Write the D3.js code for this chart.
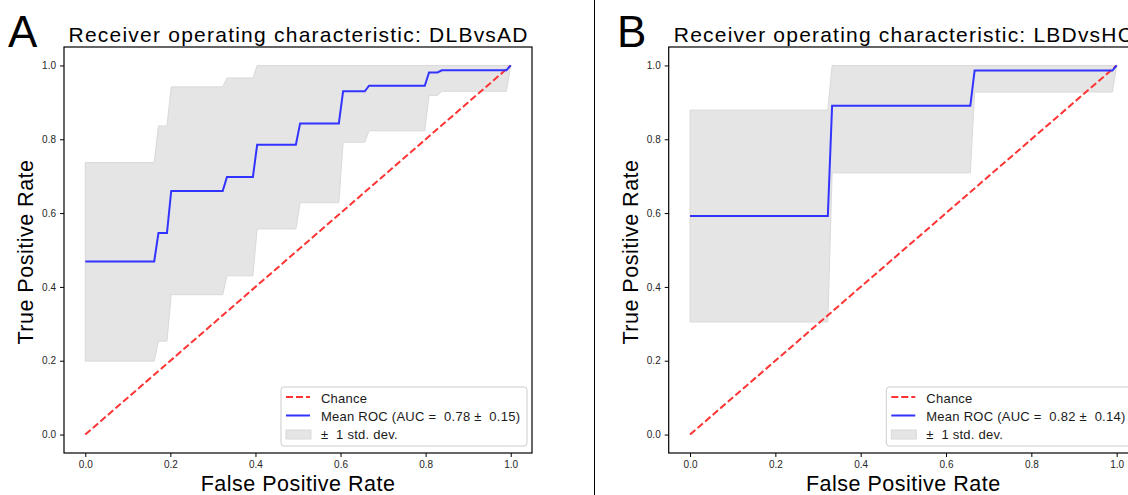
<!DOCTYPE html>
<html lang="en">
<head>
<meta charset="UTF-8">
<title>ROC curves</title>
<script src="https://d3js.org/d3.v7.min.js"></script>
<style>
  body { margin: 0; background: #fff; }
  text { font-family: "Liberation Sans", Arial, sans-serif; }
  .tick text { fill: #262626; font-size: 10px; }
  .tick line { stroke: #000; }
</style>
</head>
<body>
<svg width="1128" height="495"></svg>
<script>
// ---- data ----
const ticks = [0, 0.2, 0.4, 0.6, 0.8, 1.0];
const chance = [0, 1];

// panel A: DLB vs AD
const fprA   = [0, 0.162, 0.172, 0.192, 0.202, 0.323, 0.333, 0.394, 0.404, 0.495, 0.505, 0.596, 0.606, 0.657, 0.667, 0.798, 0.808, 0.828, 0.838, 0.990, 1.0];
const meanA  = [0.469, 0.469, 0.546, 0.546, 0.660, 0.660, 0.698, 0.698, 0.785, 0.785, 0.843, 0.843, 0.930, 0.930, 0.945, 0.945, 0.981, 0.981, 0.987, 0.987, 1.0];
const upperA = [0.737, 0.737, 0.836, 0.836, 0.942, 0.942, 0.966, 0.966, 1, 1, 1, 1, 1, 1, 1, 1, 1, 1, 1, 1, 1];
const lowerA = [0.199, 0.199, 0.253, 0.253, 0.379, 0.379, 0.430, 0.430, 0.557, 0.557, 0.628, 0.628, 0.792, 0.792, 0.823, 0.823, 0.919, 0.919, 0.930, 0.930, 1.0];

// panel B: LBD vs HC
const fprB   = [0, 0.323, 0.333, 0.657, 0.667, 0.990, 1.0];
const meanB  = [0.592, 0.592, 0.891, 0.891, 0.986, 0.986, 1.0];
const upperB = [0.879, 0.879, 1, 1, 1, 1, 1];
const lowerB = [0.305, 0.305, 0.709, 0.709, 0.928, 0.928, 1.0];

const panels = [
  { letter: "A", title: "Receiver operating characteristic: DLBvsAD", auc: "0.78", sd: "0.15",
    fpr: fprA, mean: meanA, upper: upperA, lower: lowerA, left: 64, right: 532, letterX: 8 },
  { letter: "B", title: "Receiver operating characteristic: LBDvsHC", auc: "0.82", sd: "0.14",
    fpr: fprB, mean: meanB, upper: upperB, lower: lowerB, left: 668.7, right: 1138, letterX: 617 }
];

const svg = d3.select("svg");
const plotTop = 47, plotBottom = 453;

// separator between the panels
svg.append("line")
  .attr("x1", 594.5).attr("x2", 594.5).attr("y1", 0).attr("y2", 495)
  .attr("stroke", "#000").attr("stroke-width", 1);

panels.forEach(p => {
  const x = d3.scaleLinear().domain([-0.05, 1.05]).range([p.left, p.right]);
  const y = d3.scaleLinear().domain([-0.05, 1.05]).range([plotBottom, plotTop]);
  const g = svg.append("g");

  // std band
  const area = d3.area()
    .x((d, i) => x(p.fpr[i]))
    .y0((d, i) => y(p.lower[i]))
    .y1((d, i) => y(p.upper[i]));
  g.append("path")
    .datum(p.fpr)
    .attr("d", area)
    .attr("fill", "#e5e5e5")
    .attr("stroke", "#d9d9d9")
    .attr("stroke-width", 1);

  // chance line
  g.append("path")
    .datum(chance)
    .attr("d", d3.line().x(d => x(d)).y(d => y(d)))
    .attr("fill", "none")
    .attr("stroke", "#ff3333")
    .attr("stroke-width", 2)
    .attr("stroke-dasharray", "7,3");

  // mean ROC
  g.append("path")
    .datum(p.fpr)
    .attr("d", d3.line().x((d, i) => x(p.fpr[i])).y((d, i) => y(p.mean[i])))
    .attr("fill", "none")
    .attr("stroke", "#3333ff")
    .attr("stroke-width", 2);

  // axes
  const ax = g.append("g")
    .attr("transform", `translate(0,${plotBottom})`)
    .call(d3.axisBottom(x).tickValues(ticks).tickFormat(d3.format(".1f")).tickSize(4).tickPadding(4));
  const ay = g.append("g")
    .attr("transform", `translate(${p.left},0)`)
    .call(d3.axisLeft(y).tickValues(ticks).tickFormat(d3.format(".1f")).tickSize(4).tickPadding(4));
  ax.select(".domain").remove();
  ay.select(".domain").remove();

  // spines
  g.append("rect")
    .attr("x", p.left).attr("y", plotTop)
    .attr("width", p.right - p.left).attr("height", plotBottom - plotTop)
    .attr("fill", "none").attr("stroke", "#000").attr("stroke-width", 1.2);

  // title, labels, panel letter
  const cx = (p.left + p.right) / 2;
  g.append("text").attr("x", cx).attr("y", 42).attr("text-anchor", "middle")
    .attr("textLength", 459).attr("lengthAdjust", "spacing")
    .style("font-size", "21px").text(p.title);
  g.append("text").attr("x", cx).attr("y", 491).attr("text-anchor", "middle")
    .style("font-size", "21.5px").style("letter-spacing", "0.5px").text("False Positive Rate");
  g.append("text")
    .attr("transform", `translate(${p.left - 31},${(plotTop + plotBottom) / 2 + 2}) rotate(-90)`)
    .attr("text-anchor", "middle")
    .style("font-size", "21.5px").style("letter-spacing", "0.5px").text("True Positive Rate");
  g.append("text").attr("x", p.letterX).attr("y", 47)
    .style("font-size", "44px").text(p.letter);

  // legend
  const lx = x(0.46), ly = 387;
  const leg = g.append("g").attr("transform", `translate(${lx},${ly})`);
  leg.append("rect")
    .attr("width", 246).attr("height", 59).attr("rx", 3)
    .attr("fill", "#fff").attr("fill-opacity", 0.8)
    .attr("stroke", "#cccccc").attr("stroke-width", 1);
  leg.append("line").attr("x1", 5).attr("x2", 29).attr("y1", 10).attr("y2", 10)
    .attr("stroke", "#ff3333").attr("stroke-width", 2).attr("stroke-dasharray", "7,3");
  leg.append("line").attr("x1", 5).attr("x2", 29).attr("y1", 28.5).attr("y2", 28.5)
    .attr("stroke", "#3333ff").attr("stroke-width", 2);
  leg.append("rect").attr("x", 5).attr("y", 43).attr("width", 25).attr("height", 9)
    .attr("fill", "#e5e5e5").attr("stroke", "#d9d9d9");
  const labels = ["Chance", `Mean ROC (AUC =  ${p.auc} \u00b1  ${p.sd})`, "\u00b1  1 std. dev."];
  labels.forEach((t, i) => {
    leg.append("text").attr("x", 40).attr("y", 15.5 + i * 18.3)
      .attr("xml:space", "preserve").style("white-space", "pre")
      .style("font-size", "13px").style("letter-spacing", "0.25px")
      .attr("fill", "#1a1a1a").text(t);
  });
});
</script>
</body>
</html>
